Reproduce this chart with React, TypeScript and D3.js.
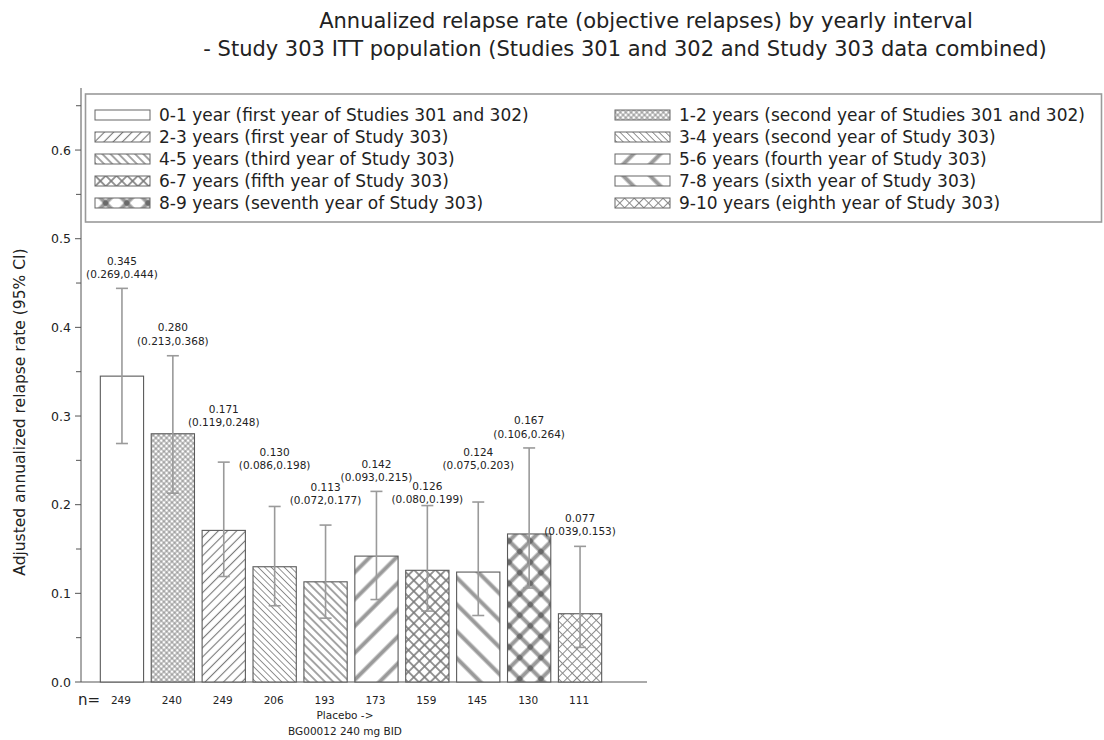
import * as d3 from "d3";
import { useRef, useEffect } from "react";

// Yearly intervals and what they correspond to
const intervals = [
  "0-1 year",
  "1-2 years",
  "2-3 years",
  "3-4 years",
  "4-5 years",
  "5-6 years",
  "6-7 years",
  "7-8 years",
  "8-9 years",
  "9-10 years",
];
const descriptions = [
  "first year of Studies 301 and 302",
  "second year of Studies 301 and 302",
  "first year of Study 303",
  "second year of Study 303",
  "third year of Study 303",
  "fourth year of Study 303",
  "fifth year of Study 303",
  "sixth year of Study 303",
  "seventh year of Study 303",
  "eighth year of Study 303",
];

// Adjusted ARR with 95% CI, and number of patients
const rates = [0.345, 0.28, 0.171, 0.13, 0.113, 0.142, 0.126, 0.124, 0.167, 0.077];
const lower = [0.269, 0.213, 0.119, 0.086, 0.072, 0.093, 0.08, 0.075, 0.106, 0.039];
const upper = [0.444, 0.368, 0.248, 0.198, 0.177, 0.215, 0.199, 0.203, 0.264, 0.153];
const patients = [249, 240, 249, 206, 193, 173, 159, 145, 130, 111];

const yTicks = [0, 0.1, 0.2, 0.3, 0.4, 0.5, 0.6];
const yMinorTicks = [0.05, 0.15, 0.25, 0.35, 0.45, 0.55, 0.65];

// Label lift above the CI cap (px), mimics the SAS collision avoidance
const labelLift = [14, 15, 40, 41, 25, 14, 6, 37, 14, 15];

// Hatch fill for each interval
const hatches = [
  { kind: "none", gap: 4, sw: 0, color: "#777" },
  { kind: "cross", gap: 3.8, sw: 0.8, color: "#777" },
  { kind: "fwd", gap: 6.5, sw: 1.1, color: "#777" },
  { kind: "back", gap: 4.6, sw: 0.9, color: "#888" },
  { kind: "back", gap: 5.8, sw: 1.3, color: "#777" },
  { kind: "fwd", gap: 19, sw: 4, color: "#9a9a9a" },
  { kind: "cross", gap: 7.6, sw: 1.5, color: "#777" },
  { kind: "back", gap: 19, sw: 4, color: "#9a9a9a" },
  { kind: "cross", gap: 15, sw: 4, color: "#9a9a9a", dot: true },
  { kind: "cross", gap: 6.8, sw: 1, color: "#8a8a8a" },
];

const font = "DejaVu Sans";
const ink = "#222";

export default function App() {
  const chartRef = useRef(null);
  const width = 1104;
  const height = 740;

  useEffect(() => {
    const svg = d3.select(chartRef.current);
    svg.selectAll("*").remove();
    const defs = svg.append("defs");

    // Scales
    const y = d3.scaleLinear().domain([0, 0.67]).range([682, 88]);
    const x = d3
      .scaleBand()
      .domain(intervals)
      .range([96.5, 605.5])
      .paddingInner(0.15)
      .paddingOuter(0.075);
    const axisX = 81;

    // Patterns
    hatches.forEach((h, i) => {
      const g = h.gap;
      const p = defs
        .append("pattern")
        .attr("id", `hatch-${i}`)
        .attr("patternUnits", "userSpaceOnUse")
        .attr("width", g)
        .attr("height", g)
        .attr("patternTransform", `rotate(${h.kind === "back" ? -45 : 45})`);
      p.append("rect").attr("width", g).attr("height", g).attr("fill", "#fff");
      if (h.kind === "none") return;
      p.append("rect")
        .attr("x", g / 2 - h.sw / 2)
        .attr("width", h.sw)
        .attr("height", g)
        .attr("fill", h.color);
      if (h.kind === "cross") {
        p.append("rect")
          .attr("y", g / 2 - h.sw / 2)
          .attr("height", h.sw)
          .attr("width", g)
          .attr("fill", h.color);
      }
      if (h.dot) {
        p.append("circle")
          .attr("cx", g / 2)
          .attr("cy", g / 2)
          .attr("r", h.sw * 0.7)
          .attr("fill", "#6a6a6a");
      }
    });

    // Title
    const title = svg
      .append("g")
      .attr("font-family", font)
      .attr("font-size", 21)
      .attr("fill", ink)
      .attr("text-anchor", "middle");
    title
      .append("text")
      .attr("x", 646)
      .attr("y", 28)
      .text("Annualized relapse rate (objective relapses) by yearly interval");
    title
      .append("text")
      .attr("x", 625)
      .attr("y", 56)
      .text(
        "- Study 303 ITT population (Studies 301 and 302 and Study 303 data combined)",
      );

    // Axes
    const axes = svg.append("g").attr("stroke", "#555").attr("stroke-width", 1);
    axes
      .append("line")
      .attr("x1", axisX)
      .attr("x2", axisX)
      .attr("y1", y(0))
      .attr("y2", y(0.67));
    axes
      .append("line")
      .attr("x1", axisX)
      .attr("x2", 647)
      .attr("y1", y(0))
      .attr("y2", y(0));
    axes
      .selectAll("line.major")
      .data(yTicks)
      .join("line")
      .attr("class", "major")
      .attr("x1", axisX - 6)
      .attr("x2", axisX)
      .attr("y1", (d) => y(d))
      .attr("y2", (d) => y(d));
    axes
      .selectAll("line.minor")
      .data(yMinorTicks)
      .join("line")
      .attr("class", "minor")
      .attr("x1", axisX - 5)
      .attr("x2", axisX)
      .attr("y1", (d) => y(d))
      .attr("y2", (d) => y(d));

    svg
      .append("g")
      .attr("font-family", font)
      .attr("font-size", 12.5)
      .attr("fill", ink)
      .attr("text-anchor", "end")
      .selectAll("text")
      .data(yTicks)
      .join("text")
      .attr("x", axisX - 10)
      .attr("y", (d) => y(d) + 4.5)
      .text((d) => d3.format(".1f")(d));

    svg
      .append("text")
      .attr("transform", `translate(25,${(y(0) + y(0.6)) / 2 - 4}) rotate(-90)`)
      .attr("text-anchor", "middle")
      .attr("font-family", font)
      .attr("font-size", 15.5)
      .attr("fill", ink)
      .text("Adjusted annualized relapse rate (95% CI)");

    // Bars
    const bars = svg
      .append("g")
      .selectAll("g")
      .data(intervals)
      .join("g");

    bars
      .append("rect")
      .attr("x", (d) => x(d))
      .attr("width", x.bandwidth())
      .attr("y", (d, i) => y(rates[i]))
      .attr("height", (d, i) => y(0) - y(rates[i]))
      .attr("fill", (d, i) => `url(#hatch-${i})`)
      .attr("stroke", "#5a5a5a")
      .attr("stroke-width", 1.1);

    // Error bars
    const cx = (d) => x(d) + x.bandwidth() / 2;
    const err = bars.append("g").attr("stroke", "#9a9a9a").attr("stroke-width", 1.6);
    err
      .append("line")
      .attr("x1", cx)
      .attr("x2", cx)
      .attr("y1", (d, i) => y(lower[i]))
      .attr("y2", (d, i) => y(upper[i]));
    [lower, upper].forEach((arr) => {
      err
        .append("line")
        .attr("x1", (d) => cx(d) - 6)
        .attr("x2", (d) => cx(d) + 6)
        .attr("y1", (d, i) => y(arr[i]))
        .attr("y2", (d, i) => y(arr[i]));
    });

    // Value labels
    const fmt = d3.format(".3f");
    const lab = bars
      .append("g")
      .attr("font-family", font)
      .attr("font-size", 10.5)
      .attr("fill", ink)
      .attr("text-anchor", "middle");
    lab
      .append("text")
      .attr("x", cx)
      .attr("y", (d, i) => y(upper[i]) - labelLift[i] - 9.5)
      .text((d, i) => fmt(rates[i]));
    lab
      .append("text")
      .attr("x", cx)
      .attr("y", (d, i) => y(upper[i]) - labelLift[i] + 3.8)
      .text((d, i) => `(${fmt(lower[i])},${fmt(upper[i])})`);

    // n row
    svg
      .append("text")
      .attr("x", 78)
      .attr("y", 705)
      .attr("font-family", font)
      .attr("font-size", 15)
      .attr("fill", ink)
      .text("n=");
    svg
      .append("g")
      .attr("font-family", font)
      .attr("font-size", 10.5)
      .attr("fill", ink)
      .attr("text-anchor", "middle")
      .selectAll("text")
      .data(intervals)
      .join("text")
      .attr("x", (d) => cx(d) - 1)
      .attr("y", 704)
      .text((d, i) => patients[i]);

    const group = svg
      .append("g")
      .attr("font-family", font)
      .attr("font-size", 10.5)
      .attr("fill", ink)
      .attr("text-anchor", "middle");
    group.append("text").attr("x", 345).attr("y", 719).text("Placebo ->");
    group.append("text").attr("x", 345).attr("y", 735).text("BG00012 240 mg BID");

    // Legend
    const legend = svg.append("g");
    legend
      .append("rect")
      .attr("x", 85.5)
      .attr("y", 94)
      .attr("width", 1016)
      .attr("height", 128)
      .attr("fill", "#fff")
      .attr("stroke", "#9a9a9a")
      .attr("stroke-width", 1.6);

    const items = legend
      .selectAll("g.item")
      .data(intervals)
      .join("g")
      .attr("class", "item")
      .attr(
        "transform",
        (d, i) => `translate(${i % 2 === 0 ? 95 : 615},${115 + Math.floor(i / 2) * 22})`,
      );
    items
      .append("rect")
      .attr("x", 0)
      .attr("y", -5)
      .attr("width", 55)
      .attr("height", 10)
      .attr("fill", (d, i) => `url(#hatch-${i})`)
      .attr("stroke", "#666")
      .attr("stroke-width", 1);
    items
      .append("text")
      .attr("x", 64)
      .attr("y", 6)
      .attr("font-family", font)
      .attr("font-size", 17)
      .attr("fill", ink)
      .text((d, i) => `${d} (${descriptions[i]})`);
  }, []);

  return (
    <svg
      ref={chartRef}
      xmlns="http://www.w3.org/2000/svg"
      width={width}
      height={height}
      viewBox={`0 0 ${width} ${height}`}
      style={{ position: "absolute", left: 0, top: 0, background: "#fff" }}
    ></svg>
  );
}
